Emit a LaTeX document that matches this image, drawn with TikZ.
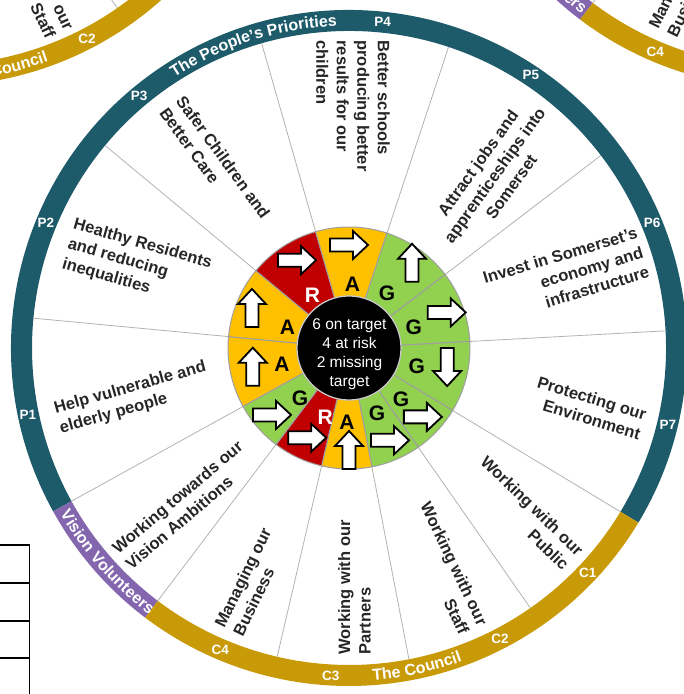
\documentclass[tikz,border=0pt]{standalone}
\usepackage{fontspec}
\setmainfont{Liberation Sans}
\usetikzlibrary{decorations.text}

\definecolor{prioteal}{HTML}{1E5B6A}
\definecolor{councilgold}{HTML}{C99A08}
\definecolor{visionpurple}{HTML}{8466AE}
\definecolor{ragred}{HTML}{C00000}
\definecolor{ragamber}{HTML}{FFC000}
\definecolor{raggreen}{HTML}{92D050}
\definecolor{textgrey}{HTML}{262626}

% band of the outer ring / sector of the status ring, round the current origin
\newcommand{\ringpart}[3]{\fill[#1] (#2:317) arc[start angle=#2, end angle=#3, radius=317] -- (#3:338) arc[start angle=#3, end angle=#2, radius=338] -- cycle;}
\newcommand{\ragpart}[3]{\filldraw[ragedge, fill=#1] (#2:52) arc[start angle=#2, end angle=#3, radius=52] -- (#3:121) arc[start angle=#3, end angle=#2, radius=121] -- cycle;}

\begin{document}
\begin{tikzpicture}[x=1pt, y=1pt,
    ragedge/.style={draw=gray!75, line width=1pt},
    spoke/.style={draw=gray!60, line width=0.8pt},
    ringlabel/.style={font=\fontsize{13.5}{14}\selectfont\bfseries, text=white, inner sep=0pt},
    ragletter/.style={font=\fontsize{21}{21}\selectfont\bfseries, inner sep=0pt},
    sectortext/.style={font=\fontsize{16.5}{20.5}\selectfont\bfseries, text=textgrey, inner sep=0pt},
    arctitle/.style={decorate, decoration={text along path, text align=center, text color=white, text={|\fontsize{16}{16}\selectfont\bfseries|#1}}},
    blockarrow/.pic={\draw[line width=1.8pt, fill=white] (-19,-6.5) -- (4,-6.5) -- (4,-14) -- (19,0) -- (4,14) -- (4,6.5) -- (-19,6.5) -- cycle;}]
    \useasboundingbox (0,0) rectangle (684,694);
    \clip (0,0) rectangle (684,694);
    \coordinate (c) at (349,346);

        %% Neighbour wheels, cut off by the page
        \begin{scope}[shift={(-64,946)}]
            \ringpart{councilgold}{232.9}{328.9}
            \draw[spoke] (304.9:121) -- (304.9:317);
            \node[ringlabel] (tlc2) at (297.4:328) {C2};
            \path[arctitle={Council}] (-90:333) arc[start angle=-90, end angle=-60.6, radius=333];
        \end{scope}
        \node[sectortext, rotate=-64.7, align=right] (tlstaff) at (51,677) {our\\Staff};

        \begin{scope}[shift={(784,944)}]
            \ringpart{visionpurple}{208.9}{232.9}
            \ringpart{councilgold}{232.9}{328.9}
            \draw[spoke] (232.9:121) -- (232.9:317);
            \node[ringlabel] (trc4) at (246.9:328) {C4};
            \path[arctitle={ers}] (225.5:333) arc[start angle=225.5, end angle=235.5, radius=333];
        \end{scope}
        \node[sectortext, rotate=64, align=left] (trbusiness) at (686,711) {Managing our\\Business};

        %% Table edge at the left
        \draw[line width=1.6pt] (0,149) -- (29.5,149) -- (29.5,0);
        \draw[line width=1.6pt] (0,111) -- (29.5,111);
        \draw[line width=1.6pt] (0,73) -- (29.5,73);
        \draw[line width=1.6pt] (0,36) -- (29.5,36);

    \begin{scope}[shift={(c)}]
        %% Outer ring
        \ringpart{prioteal}{-31.1}{208.9}
        \ringpart{visionpurple}{208.9}{232.9}
        \ringpart{councilgold}{232.9}{328.9}
        \path[arctitle={The People’s Priorities}] (140:322) arc[start angle=140, end angle=75, radius=322];
        \path[arctitle={The Council}] (-100:333) arc[start angle=-100, end angle=-56, radius=333];
        \path[arctitle={Vision Volunteers}] (205:333) arc[start angle=205, end angle=238, radius=333];

        \node[ringlabel] (p1) at (191.7:328) {P1};
        \node[ringlabel] (p2) at (157.6:328) {P2};
        \node[ringlabel] (p3) at (129.8:328) {P3};
        \node[ringlabel] (p4) at (84.1:328) {P4};
        \node[ringlabel] (p5) at (56.3:328) {P5};
        \node[ringlabel] (p6) at (22.4:328) {P6};
        \node[ringlabel] (p7) at (-13.5:328) {P7};
        \node[ringlabel] (c1) at (-43.3:328) {C1};
        \node[ringlabel] (c2) at (-62.6:328) {C2};
        \node[ringlabel] (c3) at (266.8:328) {C3};
        \node[ringlabel] (c4) at (246.9:328) {C4};

        %% Spokes
        \draw[spoke] (-31.1:121) -- (-31.1:317);
        \draw[spoke] (3.1:121) -- (3.1:317);
        \draw[spoke] (37.4:121) -- (37.4:317);
        \draw[spoke] (71.7:121) -- (71.7:317);
        \draw[spoke] (106:121) -- (106:317);
        \draw[spoke] (140.3:121) -- (140.3:317);
        \draw[spoke] (174.6:121) -- (174.6:317);
        \draw[spoke] (208.9:121) -- (208.9:317);
        \draw[spoke] (232.9:121) -- (232.9:317);
        \draw[spoke] (256.9:121) -- (256.9:317);
        \draw[spoke] (280.9:121) -- (280.9:317);
        \draw[spoke] (304.9:121) -- (304.9:317);

        %% Status ring
        \ragpart{ragamber}{174.6}{208.9}
        \ragpart{ragamber}{140.3}{174.6}
        \ragpart{ragred}{106}{140.3}
        \ragpart{ragamber}{71.7}{106}
        \ragpart{raggreen}{37.4}{71.7}
        \ragpart{raggreen}{3.1}{37.4}
        \ragpart{raggreen}{-31.1}{3.1}
        \ragpart{raggreen}{304.9}{328.9}
        \ragpart{raggreen}{280.9}{304.9}
        \ragpart{ragamber}{256.9}{280.9}
        \ragpart{ragred}{232.9}{256.9}
        \ragpart{raggreen}{208.9}{232.9}
        \node[circle, fill=black, draw=gray!40, line width=1.2pt, minimum size=104pt, inner sep=0pt] (hub) at (0,0) {};

        \node[ragletter] (rp1) at (194:69) {A};
        \node[ragletter] (rp2) at (161:65) {A};
        \node[ragletter, text=white] (rp3) at (124.7:64) {R};
        \node[ragletter] (rp4) at (87:64) {A};
        \node[ragletter] (rp5) at (55.4:67) {G};
        \node[ragletter] (rp6) at (18:68) {G};
        \node[ragletter] (rp7) at (-14.8:70) {G};
        \node[ragletter] (rc1) at (-44.5:73) {G};
        \node[ragletter] (rc2) at (-66.7:71) {G};
        \node[ragletter] (rc3) at (268.5:74) {A};
        \node[ragletter, text=white] (rc4) at (251:73) {R};
        \node[ragletter] (rv) at (225.6:70) {G};

        \pic[rotate=90] at (191:98) {blockarrow};
        \pic[rotate=90] at (157.6:105) {blockarrow};
        \pic at (120.6:102) {blockarrow};
        \pic at (90:103) {blockarrow};
        \pic[rotate=90] at (53.5:106) {blockarrow};
        \pic at (20:104) {blockarrow};
        \pic[rotate=-90] at (-11:100) {blockarrow};
        \pic at (-43:101) {blockarrow};
        \pic at (-66:101) {blockarrow};
        \pic[rotate=90] at (270:102) {blockarrow};
        \pic at (245:99) {blockarrow};
        \pic at (221:102) {blockarrow};
    \end{scope}
    \node[font=\fontsize{15.5}{19}\selectfont, text=white, align=center, inner sep=0pt] (hubtext) at (349.5,340) {6 on target\\4 at risk\\2 missing\\target};

        %% Sector texts
        \node[sectortext, rotate=15.6, align=left] (tp1) at (133,296) {Help vulnerable and\\elderly people};
        \node[sectortext, rotate=-16, align=left] (tp2) at (137,430) {Healthy Residents\\and reducing\\inequalities};
        \node[sectortext, rotate=-54, align=left] (tp3) at (215,531) {Safer Children and\\Better Care};
        \node[sectortext, rotate=-90, align=left] (tp4) at (353,588) {Better schools\\producing better\\results for our\\children};
        \node[sectortext, rotate=54.4, align=center] (tp5) at (494.5,519) {Attract jobs and\\apprenticeships into\\Somerset};
        \node[sectortext, rotate=16.7, align=right] (tp6) at (566,419) {Invest in Somerset’s\\economy and\\infrastructure};
        \node[sectortext, rotate=-16.7, align=right] (tp7) at (589,286) {Protecting our\\Environment};
        \node[sectortext, rotate=-44, align=right] (tc1) at (525,181) {Working with our\\Public};
        \node[sectortext, rotate=-64.7, align=right] (tc2) at (445,126) {Working with our\\Staff};
        \node[sectortext, rotate=90, align=left] (tc3) at (354.5,106.5) {Working with our\\Partners};
        \node[sectortext, rotate=64, align=left] (tc4) at (252,112) {Managing our\\Business};
        \node[sectortext, rotate=40.2, align=left] (tv) at (184,189) {Working towards our\\Vision Ambitions};
\end{tikzpicture}
\end{document}
